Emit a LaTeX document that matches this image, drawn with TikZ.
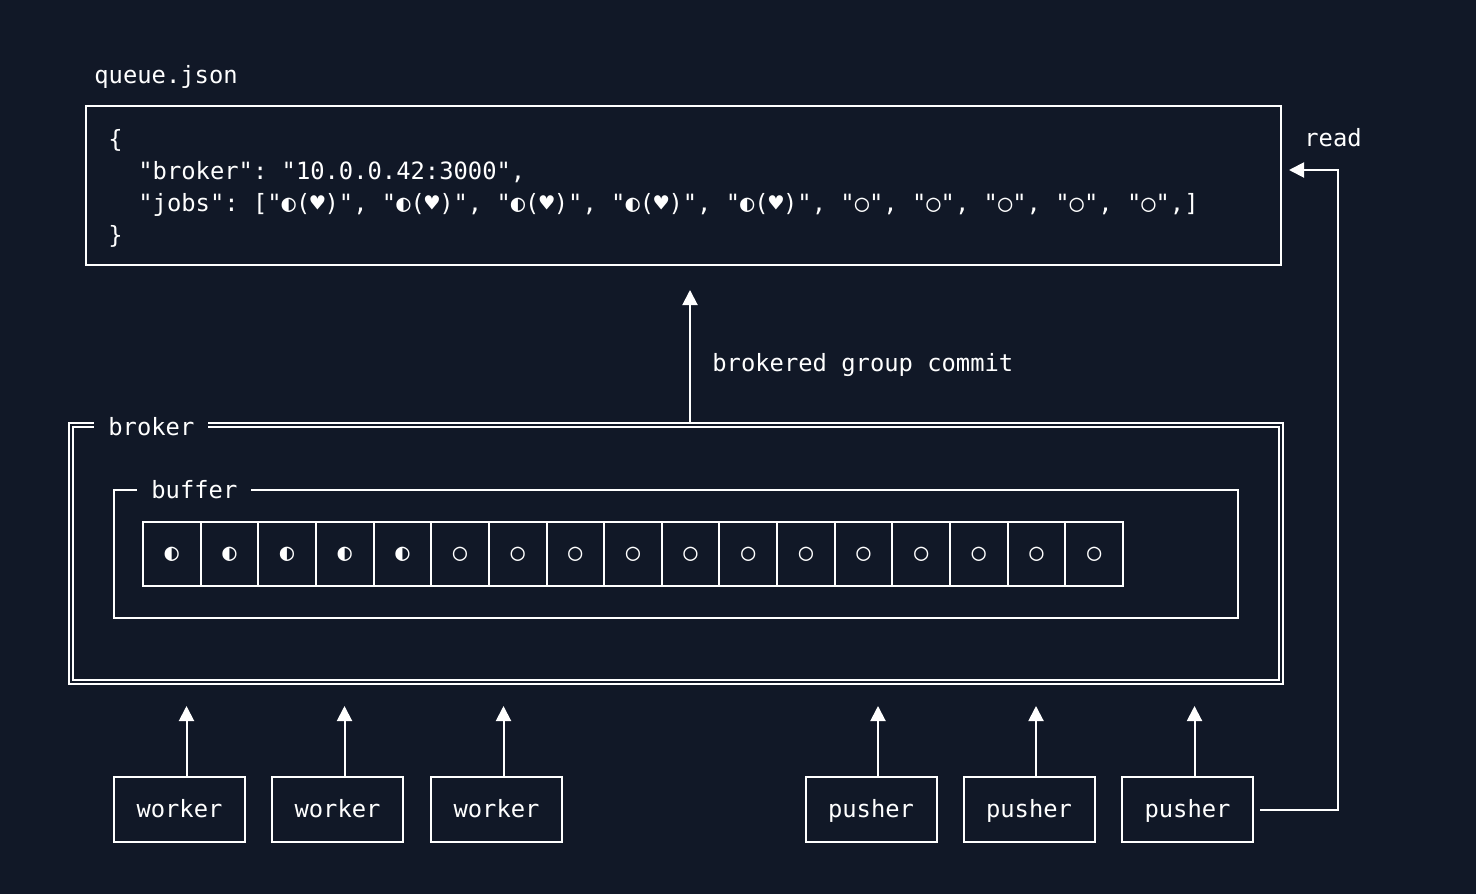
\documentclass[tikz,border=0pt]{standalone}
\usepackage{fontspec}
\setmonofont{DejaVu Sans Mono}
\usetikzlibrary{arrows.meta,calc}
\definecolor{bg}{HTML}{111827}
\begin{document}
\begin{tikzpicture}[x=0.5pt,y=-0.5pt,
  font=\ttfamily\fontsize{11.9pt}{14pt}\selectfont,
  every node/.style={text=white},
  box/.style={draw=white, line width=1pt, fill=bg, inner sep=0pt},
  lbl/.style={inner sep=0pt, anchor=base west},
  title/.style={fill=bg, inner xsep=7pt, inner ysep=1pt, anchor=base west},
  cell/.style={draw=white, line width=1pt, minimum width=28.82pt, minimum height=32pt, inner sep=0pt},
  actor/.style={box, minimum width=65.5pt, minimum height=32.5pt, text height=9.5pt, text depth=2pt},
  uparrow/.style={draw=white, line width=1pt, -{Triangle[width=0.1pt,length=0.1pt,line width=0pt,sep=3pt] Triangle[width=7.5pt,length=7.5pt]}},
  readarrow/.style={draw=white, line width=1pt, -{Triangle[width=7.5pt,length=7.5pt]}}
]
\fill[bg] (0,0) rectangle (1476,894);
\useasboundingbox (0,0) rectangle (1476,894);

% queue.json
\node[lbl] (qtitle) at (94,83) {queue.json};
\node[box, minimum width=597.5pt, minimum height=79.5pt] (queue) at (683.5,185.5) {};
\node[lbl] (j1) at (108,147) {\{};
\node[lbl] (j2) at (138,179) {"broker": "10.0.0.42:3000",};
\node[lbl] (j3) at (138,211) {"jobs": ["◐(♥)", "◐(♥)", "◐(♥)", "◐(♥)", "◐(♥)", "○", "○", "○", "○", "○",]};
\node[lbl] (j4) at (108,243) {\}};

% broker
\node[draw=white, line width=1pt, double=bg, double distance=1pt, inner sep=0pt,
      minimum width=605pt, minimum height=128.5pt] (broker) at (676,553.5) {};
\node[title] (brokertitle) at (94,435) {broker};

% buffer
\node[box, minimum width=562pt, minimum height=64pt] (buffer) at (676,554) {};
\node[title] (buffertitle) at (137,498) {buffer};

\foreach \i in {0,...,16}{
  \pgfmathsetmacro\cx{143+57.647*(\i+0.5)}
  \node[cell] (c\i) at (\cx,554) {\ifnum\i<5 ◐\else ○\fi};
}

% workers and pushers
\node[actor] (w1) at (179.5,809.5) {worker};
\node[actor] (w2) at (337.5,809.5) {worker};
\node[actor] (w3) at (496.5,809.5) {worker};
\node[actor] (p1) at (871,809.5) {pusher};
\node[actor] (p2) at (1029,809.5) {pusher};
\node[actor] (p3) at (1187.5,809.5) {pusher};

\foreach \n in {w1,w2,w3,p1,p2,p3}{
  \draw[uparrow] ([xshift=3.5pt]\n.north) -- ++(0,-70);
}

% group commit
\draw[uparrow] ([shift={(7pt,1pt)}]broker.north) -- ++(0,-132);
\node[lbl] (commitlbl) at (712,371) {brokered group commit};

% read
\coordinate (rc) at (1338,170);
\draw[readarrow] ([xshift=3pt]p3.east) -| (rc) -- ([xshift=3.5pt]queue.east |- rc);
\node[lbl] (readlbl) at (1304,146) {read};
\end{tikzpicture}
\end{document}
